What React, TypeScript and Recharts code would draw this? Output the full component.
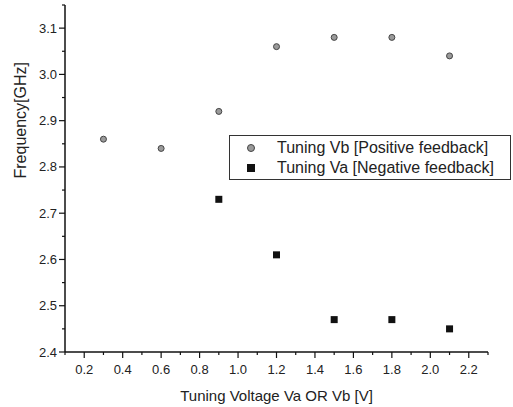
import React from 'react';
import { ScatterChart, Scatter, XAxis, YAxis } from 'recharts';

// tuning voltage (V) and measured frequency (GHz)
const vbVoltage = [0.3, 0.6, 0.9, 1.2, 1.5, 1.8, 2.1];
const vbFreq = [2.86, 2.84, 2.92, 3.06, 3.08, 3.08, 3.04];
const vaVoltage = [0.9, 1.2, 1.5, 1.8, 2.1];
const vaFreq = [2.73, 2.61, 2.47, 2.47, 2.45];

const xTicks = [0.1, 0.2, 0.3, 0.4, 0.5, 0.6, 0.7, 0.8, 0.9, 1.0, 1.1, 1.2, 1.3, 1.4, 1.5, 1.6, 1.7, 1.8, 1.9, 2.0, 2.1, 2.2, 2.3];
const yTicks = [2.4, 2.45, 2.5, 2.55, 2.6, 2.65, 2.7, 2.75, 2.8, 2.85, 2.9, 2.95, 3.0, 3.05, 3.1, 3.15];

const vbData = vbVoltage.map((x, i) => ({ x, y: vbFreq[i] }));
const vaData = vaVoltage.map((x, i) => ({ x, y: vaFreq[i] }));

const font = 'Arial, "Liberation Sans", sans-serif';

const XTick = (props: any) => {
  const { x, y, payload } = props;
  const v = payload.value;
  const major = Math.round(v * 10) % 2 === 0;
  return (
    <g>
      <line x1={x} x2={x} y1={y} y2={y + (major ? 6 : 3)} stroke="#111" strokeWidth={1.2} />
      {major && (
        <text x={x} y={y + 22} textAnchor="middle" fontSize={13} fontFamily={font} fill="#222">
          {v.toFixed(1)}
        </text>
      )}
    </g>
  );
};

const YTick = (props: any) => {
  const { x, y, payload } = props;
  const v = payload.value;
  const major = Math.round(v * 100) % 10 === 0;
  return (
    <g>
      <line x1={x} x2={x - (major ? 6 : 3)} y1={y} y2={y} stroke="#111" strokeWidth={1.2} />
      {major && (
        <text x={x - 8} y={y + 4.5} textAnchor="end" fontSize={13} fontFamily={font} fill="#222">
          {v.toFixed(1)}
        </text>
      )}
    </g>
  );
};

const CircleDot = (props: any) => {
  const { cx, cy } = props;
  return <circle cx={cx} cy={cy} r={3} fill="#9a9a9a" stroke="#444" strokeWidth={1} />;
};

const SquareDot = (props: any) => {
  const { cx, cy } = props;
  return <rect x={cx - 3.5} y={cy - 3.5} width={7} height={7} fill="#111" />;
};

const LegendBox = () => (
  <div
    style={{
      position: 'absolute',
      left: 229,
      top: 135,
      width: 282,
      height: 45,
      border: '1px solid #333',
      background: '#fff',
      fontFamily: font,
      fontSize: 16,
      color: '#222',
      boxSizing: 'border-box',
      paddingTop: 2,
    }}
  >
    <div style={{ display: 'flex', alignItems: 'center', height: 20 }}>
      <svg width={47} height={20}>
        <circle cx={21} cy={10} r={3.5} fill="#9a9a9a" stroke="#444" />
      </svg>
      <span>Tuning Vb [Positive feedback]</span>
    </div>
    <div style={{ display: 'flex', alignItems: 'center', height: 20 }}>
      <svg width={47} height={20}>
        <rect x={17} y={6} width={8} height={8} fill="#111" />
      </svg>
      <span>Tuning Va [Negative feedback]</span>
    </div>
  </div>
);

export default function App() {
  return (
    <div style={{ position: 'absolute', left: 0, top: 0, width: 513, height: 407, background: '#fff' }}>
      <ScatterChart width={513} height={407} margin={{ top: 5, right: 25, bottom: 0, left: 0 }}>
        <XAxis
          type="number"
          dataKey="x"
          domain={[0.1, 2.3]}
          ticks={xTicks}
          interval={0}
          tickSize={0}
          tickMargin={0}
          tickLine={false}
          tick={<XTick />}
          height={55}
          axisLine={{ stroke: '#111', strokeWidth: 1.5 }}
          label={{ value: 'Tuning Voltage Va OR Vb [V]', position: 'insideBottom', offset: 6, fontSize: 15, fontFamily: font, fill: '#222' }}
        />
        <YAxis
          type="number"
          dataKey="y"
          domain={[2.4, 3.15]}
          ticks={yTicks}
          interval={0}
          tickSize={0}
          tickMargin={0}
          tickLine={false}
          tick={<YTick />}
          width={65}
          axisLine={{ stroke: '#111', strokeWidth: 1.5 }}
          label={{ value: 'Frequency[GHz]', angle: -90, position: 'insideLeft', offset: 20, fontSize: 16, fontFamily: font, fill: '#222' }}
        />
        <Scatter name="Tuning Vb [Positive feedback]" data={vbData} shape={<CircleDot />} isAnimationActive={false} />
        <Scatter name="Tuning Va [Negative feedback]" data={vaData} shape={<SquareDot />} isAnimationActive={false} />
      </ScatterChart>
      <LegendBox />
    </div>
  );
}
